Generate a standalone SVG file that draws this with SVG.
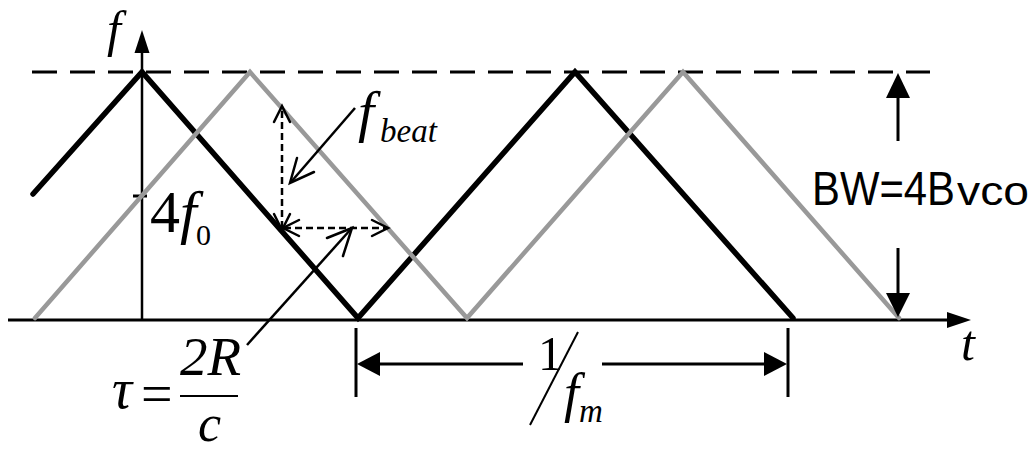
<svg xmlns="http://www.w3.org/2000/svg" width="1034" height="452" viewBox="0 0 1034 452">
<style>
.it{font-family:"Liberation Serif","Times New Roman",serif;font-style:italic;fill:#000}
.rm{font-family:"Liberation Serif","Times New Roman",serif;fill:#000}
.sans{font-family:"Liberation Sans",Arial,sans-serif;fill:#000}
.ln{stroke:#000;fill:none}
.open{stroke:#000;stroke-width:2.5;fill:none;stroke-linecap:round;stroke-linejoin:miter}
</style>
<g id="axes">
<line class="ln" x1="8" y1="320" x2="950" y2="320" stroke-width="3"/>
<polygon points="971,320 947,312 947,328" fill="#000"/>
<line class="ln" x1="142" y1="320" x2="142" y2="50" stroke-width="2.5"/>
<polygon points="142,30 134.5,53 149.5,53" fill="#000"/>
<line class="ln" x1="133" y1="196" x2="147" y2="196" stroke-width="3"/>
<text class="it" x="107" y="46" font-size="50">f</text>
<text class="it" x="961" y="360" font-size="50">t</text>
</g>
<g id="bandwidth-limit">
<line class="ln" x1="32" y1="72" x2="930" y2="72" stroke-width="3" stroke-dasharray="25 13"/>
</g>
<g id="tx-signal">
<polyline points="33,194 142,72 358,318 575,72 793,318" fill="none" stroke="#000" stroke-width="5.5" stroke-linecap="round" stroke-linejoin="miter"/>
</g>
<g id="rx-signal">
<polyline points="35,318 250,72 467,318 683,72 899,318" fill="none" stroke="#999" stroke-width="4.5" stroke-linecap="round" stroke-linejoin="miter"/>
</g>
<g id="connectors">
<line class="ln" x1="282" y1="228" x2="282" y2="107" stroke-width="2.5" stroke-dasharray="7 4"/>
<polyline class="open" points="274,122 282,106 290,122"/>
<polyline class="open" points="274,214 282,230 290,214"/>
<line class="ln" x1="284" y1="228" x2="388" y2="228" stroke-width="2.5" stroke-dasharray="7 4"/>
<polyline class="open" points="299,220 283,228 299,236"/>
<polyline class="open" points="372,220 388,228 372,236"/>
<line class="ln" x1="355" y1="108" x2="291" y2="182" stroke-width="2.5"/>
<polyline class="open" points="297,158 290,183 314,172"/>
<line class="ln" x1="247" y1="345" x2="351" y2="229" stroke-width="2.5"/>
<polyline class="open" points="327,238 352,228 343,256"/>
<line class="ln" x1="356" y1="328" x2="356" y2="397" stroke-width="3"/>
<line class="ln" x1="788" y1="328" x2="788" y2="397" stroke-width="3"/>
<line class="ln" x1="375" y1="364" x2="523" y2="364" stroke-width="3"/>
<polygon points="357,364 380,352 380,376" fill="#000"/>
<line class="ln" x1="602" y1="364" x2="770" y2="364" stroke-width="3"/>
<polygon points="787,364 764,352 764,376" fill="#000"/>
<line class="ln" x1="898" y1="95" x2="898" y2="141" stroke-width="3"/>
<polygon points="898,73 886,98 910,98" fill="#000"/>
<line class="ln" x1="898" y1="248" x2="898" y2="296" stroke-width="3"/>
<polygon points="898,317 886,293 910,293" fill="#000"/>
</g>
<g id="label-4f0">
<text class="rm" x="150" y="232" font-size="60">4</text>
<text class="it" x="180" y="232" font-size="60">f</text>
<text class="rm" x="196" y="245" font-size="30">0</text>
</g>
<g id="label-fbeat">
<text class="it" x="358" y="131" font-size="58">f</text>
<text class="it" x="380" y="142" font-size="33">beat</text>
</g>
<g id="label-tau">
<text class="it" x="112" y="408" font-size="56">τ</text>
<text class="rm" x="141" y="413" font-size="56">=</text>
<line class="ln" x1="180" y1="396" x2="238" y2="396" stroke-width="2"/>
<text class="it" x="180" y="375" font-size="55">2R</text>
<text class="it" x="198" y="441" font-size="52">c</text>
</g>
<g id="label-period">
<text class="rm" x="538" y="370" font-size="49">1</text>
<line class="ln" x1="578" y1="332" x2="530" y2="425" stroke-width="2"/>
<text class="it" x="564" y="411" font-size="54">f</text>
<text class="it" x="579" y="422" font-size="33">m</text>
</g>
<g id="label-bw">
<text class="sans" y="205"><tspan x="812" font-size="49" textLength="143" lengthAdjust="spacingAndGlyphs">BW=4B</tspan><tspan x="957" font-size="40" textLength="72" lengthAdjust="spacingAndGlyphs">vco</tspan></text>
</g>
</svg>
